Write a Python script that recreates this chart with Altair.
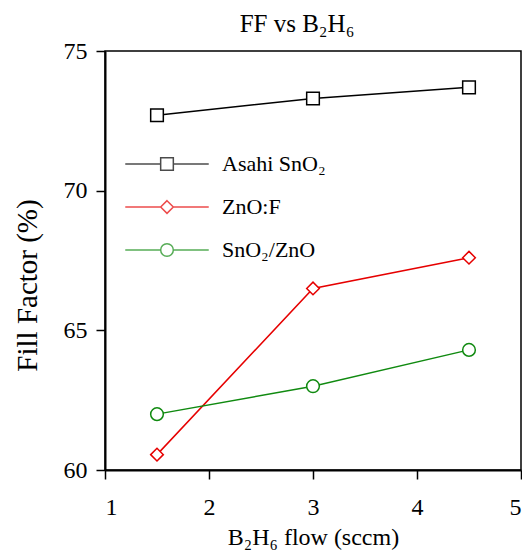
import altair as alt
import pandas as pd

series_names = ["Asahi SnO₂", "ZnO:F", "SnO₂/ZnO"]
flow = [1.5, 3.0, 4.5]
asahi = [72.7, 73.3, 73.7]
znof = [60.55, 66.5, 67.6]
sno2zno = [62.0, 63.0, 64.3]
colors = ["#000000", "#e60000", "#108a10"]
marker_shapes = ["square", "diamond", "circle"]
x_ticks = [1, 2, 3, 4, 5]
y_ticks = [60, 65, 70, 75]

line_part = "M-6.6,0H-1M1,0H6.6"
legend_paths = [
    line_part + "M-1,-1H1V1H-1Z",
    line_part + "M0,-1L1,0L0,1L-1,0Z",
    line_part + "M1,0A1,1,0,1,1,-1,0A1,1,0,1,1,1,0Z",
]

rows = []
for name, vals in zip(series_names, [asahi, znof, sno2zno]):
    for f, v in zip(flow, vals):
        rows.append({"series": name, "flow": f, "ff": v})
df = pd.DataFrame(rows)

FONT = "Liberation Serif"

x_enc = alt.X(
    "flow:Q",
    scale=alt.Scale(domain=[1, 5], nice=False, zero=False),
    axis=alt.Axis(values=x_ticks, title="B₂H₆ flow (sccm)", labelPadding=16,
                  titlePadding=6, format="d"),
)
y_enc = alt.Y(
    "ff:Q",
    scale=alt.Scale(domain=[60, 75], nice=False, zero=False),
    axis=alt.Axis(values=y_ticks, title="Fill Factor (%)", labelPadding=9,
                  titleFontSize=29, titleX=-63, titleY=234,
                  titleBaseline="bottom", titleAngle=270),
)
color_scale = alt.Scale(domain=series_names, range=colors)

base = alt.Chart(df)

lines = base.mark_line(strokeWidth=1.5).encode(
    x=x_enc, y=y_enc,
    color=alt.Color("series:N", scale=color_scale, legend=None),
)

point_layers = []
for name, shp in zip(series_names, marker_shapes):
    point_layers.append(
        base.mark_point(shape=shp, size=160, filled=False, fill="white",
                        strokeWidth=1.5, opacity=1)
        .encode(x=x_enc, y=y_enc,
                color=alt.Color("series:N", scale=color_scale, legend=None))
        .transform_filter(alt.datum.series == name)
    )

leg = alt.Legend(title=None, orient="none", legendX=51, legendY=102,
                 symbolSize=160, symbolStrokeWidth=1.5, labelOffset=44,
                 rowPadding=21, padding=0, labelFont=FONT, labelFontSize=22,
                 labelColor="black", symbolFillColor="transparent")

legend_layer = base.mark_point(filled=False, strokeWidth=1.5, size=160).encode(
    x=x_enc, y=y_enc,
    color=alt.Color("series:N", scale=color_scale, legend=leg),
    shape=alt.Shape("series:N", scale=alt.Scale(domain=series_names, range=legend_paths),
                    legend=leg),
).transform_filter("false")

chart = alt.layer(lines, *point_layers, legend_layer).resolve_scale(
    color="independent", shape="independent"
).properties(
    width=416,
    height=419,
    padding={"left": 97, "top": 43, "right": 1, "bottom": 80},
    autosize=alt.AutoSizeParams(type="none"),
    title=alt.TitleParams("FF vs B₂H₆", font=FONT, fontSize=25, fontWeight="normal",
                          color="black", dx=-16, dy=18, offset=0,
                          baseline="alphabetic"),
).configure_view(
    stroke="black", strokeWidth=1.5
).configure_axis(
    grid=False, domainColor="black", domainWidth=2, tickColor="black",
    tickWidth=1.5, tickSize=9, labelFont=FONT, labelFontSize=24,
    labelColor="black", titleFont=FONT, titleFontSize=24,
    titleFontWeight="normal", titleColor="black",
)

chart.save("out.html", embed_options={"renderer": "svg", "actions": False})
